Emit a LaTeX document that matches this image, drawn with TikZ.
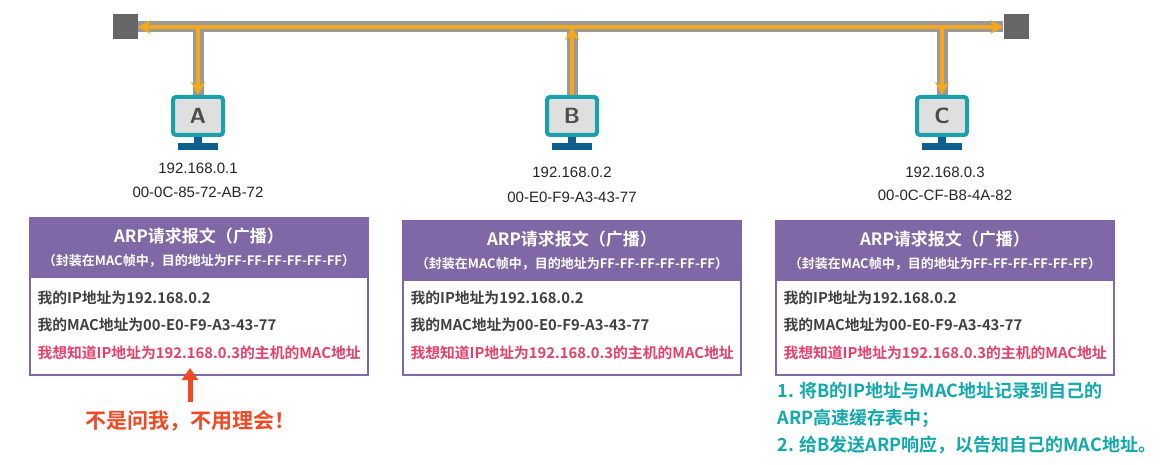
\documentclass[tikz,border=0pt]{standalone}
\usepackage{fontspec}
\setmainfont{Liberation Sans}
\newfontfamily\cjk{Noto Sans CJK SC}[BoldFont={* Bold}]
\usetikzlibrary{arrows.meta}
\definecolor{pur}{HTML}{8068A6}
\definecolor{org}{HTML}{F5A81C}
\definecolor{teal1}{HTML}{1AA0A8}
\definecolor{red1}{HTML}{E5406A}
\definecolor{red2}{HTML}{F04A24}
\definecolor{tealC}{HTML}{12A8AC}
\definecolor{navy}{HTML}{0E5E8E}
\tikzset{
 term/.style={fill=gray!80!black,minimum size=25pt,inner sep=0},
 gline/.style={line width=11pt,draw=gray!80},
 oarrow/.style={line width=4pt,draw=org,-{Stealth[length=13pt,width=14pt]}},
 ipt/.style={font=\fontsize{15}{17}\selectfont,text=black!85},
 bodybox/.style={draw=pur,line width=2pt,fill=white},
 bl/.style={anchor=west,font=\cjk\bfseries\fontsize{14.8}{16}\selectfont,text=black!75},
 note/.style={anchor=west,font=\cjk\bfseries\fontsize{18}{20}\selectfont,text=tealC}
}
\newcommand{\monitor}[3]{%
 \node[draw=teal1,line width=4pt,fill=gray!25,rounded corners=3pt,minimum width=50pt,minimum height=38pt,font=\sffamily\bfseries\fontsize{22}{24}\selectfont,text=black!70] (#2) at (#1,116) {#3};
 \fill[navy] (#1-4,137) rectangle (#1+4,143);
 \fill[navy] (#1-20,143) rectangle (#1+20,150);
}
\begin{document}
\begin{tikzpicture}[x=1pt,y=-1pt]
\useasboundingbox (0,0) rectangle (1168,465);
\fill[white] (0,0) rectangle (1168,465);
% bus
\node[term] (tl) at (125,27) {};
\node[term] (tr) at (1016,27) {};
\draw[gline] (tl.east) -- (tr.west);
\draw[gline] (198,27) -- (198,95);
\draw[gline] (572,27) -- (572,95);
\draw[gline] (942,27) -- (942,95);
\coordinate (ba) at (198,27); \coordinate (bb) at (572,27); \coordinate (bc) at (942,27);
\draw[oarrow] (bb) -- (tl.east);
\draw[oarrow] (bb) -- (tr.west);
% monitors
\monitor{198}{A}{A}
\monitor{572}{B}{B}
\monitor{942}{C}{C}
\draw[oarrow] (ba) -- (A.north);
\draw[oarrow] (bc) -- (C.north);
\draw[oarrow] (B.north) -- (bb);
% addresses
\node[ipt] at (198,168) {192.168.0.1};
\node[ipt] at (198,192) {00-0C-85-72-AB-72};
\node[ipt] at (572,172) {192.168.0.2};
\node[ipt] at (572,197) {00-E0-F9-A3-43-77};
\node[ipt] at (945,172) {192.168.0.3};
\node[ipt] at (945,195) {00-0C-CF-B8-4A-82};
% boxes
\foreach \x/\y/\n in {30/218/a,403/221/b,776/221/c}{
 \draw[bodybox] (\x,\y) rectangle (\x+338,375);
 \fill[pur] (\x,\y) rectangle (\x+338,\y+60);
 \node[text=white,font=\cjk\bfseries\fontsize{17}{19}\selectfont] (h1\n) at (\x+169,\y+18) {ARP请求报文（广播）};
 \node[text=white,font=\cjk\bfseries\fontsize{13}{15}\selectfont] (h2\n) at (\x+169,\y+43) {（封装在MAC帧中，目的地址为FF-FF-FF-FF-FF-FF）};
 \node[bl] (l1\n) at (\x+4,298) {我的IP地址为192.168.0.2};
 \node[bl] (l2\n) at (\x+4,325) {我的MAC地址为00-E0-F9-A3-43-77};
 \node[bl,text=red1] (l3\n) at (\x+4,353) {我想知道IP地址为192.168.0.3的主机的MAC地址};
}
% A remark
\coordinate (ra) at (190,402);
\draw[line width=5pt,draw=red2,-{Triangle[length=12pt,width=16pt]}] (ra) -- (190,368);
\node[font=\cjk\bfseries\fontsize{21}{23}\selectfont,text=red2] (ma) at (190,421) {不是问我，不用理会！};
% C notes
\node[note] (n1) at (774,391) {1. 将B的IP地址与MAC地址记录到自己的};
\node[note] (n2) at (774,418) {ARP高速缓存表中；};
\node[note] (n3) at (774,445) {2. 给B发送ARP响应，以告知自己的MAC地址。};
\end{tikzpicture}
\end{document}
